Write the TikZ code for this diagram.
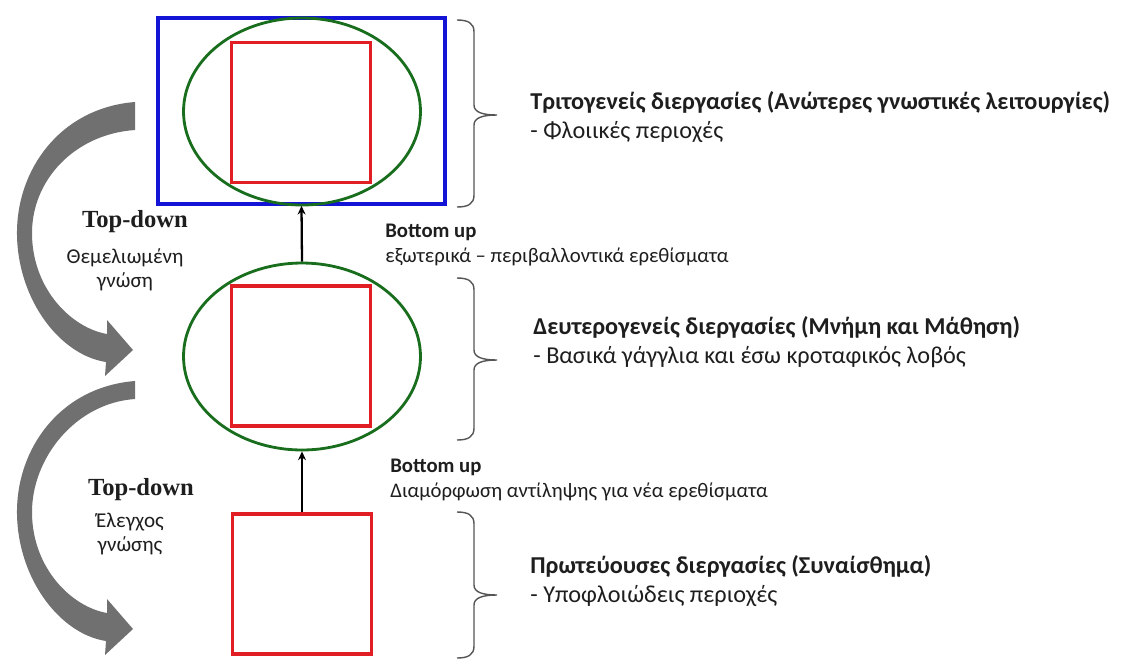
\documentclass[tikz,border=0pt]{standalone}
\usepackage{fontspec}
\setmainfont{Carlito}
\newfontfamily\tdfont{Liberation Serif}
\usetikzlibrary{shapes.geometric}
\usetikzlibrary{arrows.meta}

\definecolor{boxblue}{RGB}{20,20,215}
\definecolor{boxred}{RGB}{225,30,35}
\definecolor{ringgreen}{RGB}{25,110,30}
\definecolor{bendgray}{RGB}{112,112,112}
\definecolor{bracegray}{RGB}{85,85,85}
\definecolor{ink}{RGB}{30,30,30}

% right-hand curly bracket: top y, tip y, bottom y (px)
\newcommand{\sidebrace}[3]{%
  \draw[bracket] (457,#1) .. controls (468,#1) and (474,#1+3) .. (474,#1+12)
    -- (474,#2-10) .. controls (474,#2-3) and (482,#2) .. (497,#2)
    .. controls (482,#2) and (474,#2+3) .. (474,#2+10)
    -- (474,#3-12) .. controls (474,#3-3) and (468,#3) .. (457,#3);}

\tikzset{
  area/.style={draw=boxred,line width=1.9pt,minimum width=2.78cm,minimum height=2.8cm,inner sep=0pt},
  ring/.style={ellipse,draw=ringgreen,line width=1.6pt,minimum width=4.74cm,minimum height=3.74cm,inner sep=0pt},
  outer/.style={draw=boxblue,line width=2pt,minimum width=5.74cm,minimum height=3.72cm,inner sep=0pt},
  rise/.style={-{Stealth[length=5pt,width=4.5pt]},line width=1.3pt},
  bracket/.style={bracegray,line width=0.8pt},
  stage/.style={anchor=west,align=left,text=ink,inner sep=0pt,font=\fontsize{13.8}{16.5}\selectfont},
  bottomup/.style={anchor=west,align=left,text=ink,inner sep=0pt,font=\fontsize{11.8}{14.5}\selectfont},
  topdown/.style={text=ink,inner sep=0pt,font=\tdfont\bfseries\fontsize{14}{17}\selectfont},
  knowledge/.style={align=center,text=ink,inner sep=0pt,font=\fontsize{12}{13.5}\selectfont},
}

\begin{document}
\begin{tikzpicture}[x=0.02cm,y=-0.02cm]
    \path[use as bounding box,fill=white] (0,0) rectangle (1133,664);

    % curved top-down arrows
    \foreach \dy/\th in {0/28,279/18}{
      \begin{scope}[shift={(0,\dy)}]
        \fill[bendgray] (135,102) .. controls (60,108) and (16,170) .. (17,235)
          .. controls (18,300) and (60,355) .. (106,362) -- (105,376) -- (133,350)
          -- (107,320) -- (107,334) .. controls (72,328) and (33,290) .. (32,235)
          .. controls (31,180) and (75,106+\th) .. (135,102+\th) -- cycle;
      \end{scope}
    }

    % three levels
    \node[outer] (tbox) at (301.5,111) {};
    \node[ring] (tring) at (302,111.5) {};
    \node[area] (tsq) at (301,112.5) {};
    \node[ring] (mring) at (302,356.5) {};
    \node[area] (msq) at (301,356) {};
    \node[area] (bsq) at (302,584) {};

    \draw[rise] (mring.north) -- (tbox.south);
    \draw[rise] (bsq.north) -- (mring.south);

    \sidebrace{20}{115}{207}
    \sidebrace{278}{360}{440}
    \sidebrace{512}{595}{658}

    \node[stage] (tert) at (530,117) {\textbf{Τριτογενείς διεργασίες (Ανώτερες γνωστικές λειτουργίες)}\\- Φλοιικές περιοχές};
    \node[stage] (sec) at (533,342) {\textbf{Δευτερογενείς διεργασίες (Μνήμη και Μάθηση)}\\- Βασικά γάγγλια και έσω κροταφικός λοβός};
    \node[stage] (prim) at (530,581) {\textbf{Πρωτεύουσες διεργασίες (Συναίσθημα)}\\- Υποφλοιώδεις περιοχές};

    \node[bottomup] (bu1) at (385,245) {\textbf{Bottom up}\\εξωτερικά – περιβαλλοντικά ερεθίσματα};
    \node[bottomup] (bu2) at (390,480) {\textbf{Bottom up}\\Διαμόρφωση αντίληψης για νέα ερεθίσματα};

    \node[topdown] (td1) at (135,222) {Top-down};
    \node[knowledge] (td1sub) at (125,270) {Θεμελιωμένη\\γνώση};
    \node[topdown] (td2) at (141,490) {Top-down};
    \node[knowledge] (td2sub) at (130,534) {Έλεγχος\\γνώσης};
\end{tikzpicture}
\end{document}
